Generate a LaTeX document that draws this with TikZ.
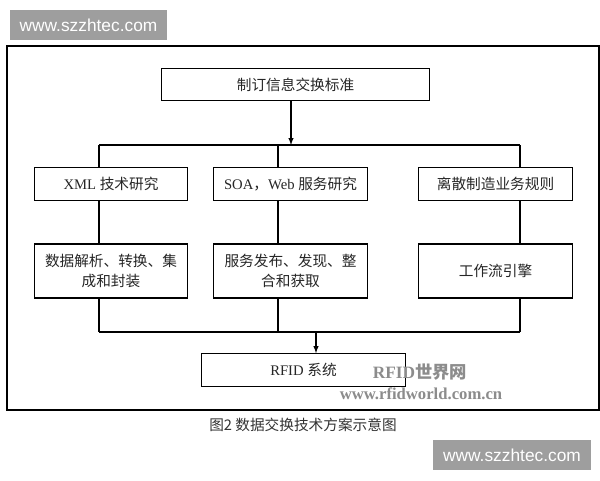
\documentclass[tikz,border=0pt]{standalone}
\usepackage{fontspec}
\setmainfont{Liberation Serif}
\newfontfamily\cjk{Noto Sans CJK SC}
\newfontfamily\wmfont{Liberation Sans}
\usetikzlibrary{positioning}

\tikzset{
	blk/.style = {draw, line width=0.8pt, minimum height=24.5pt, inner ysep=2pt, text=black!85, font=\fontsize{11}{15}\selectfont},
	blk2/.style = {blk, minimum height=40.5pt, align=center},
	wm/.style = {fill=black!38, text=white, inner sep=0pt, minimum width=118pt, minimum height=22.5pt, font=\wmfont\fontsize{13}{15}\selectfont},
	link/.style = {line width=0.8pt}
}

\begin{document}
\begin{tikzpicture}[x=0.75pt,y=-0.75pt]
		\useasboundingbox (0,0) rectangle (600,480);
		\fill[white] (0,0) rectangle (600,480);
		% outer frame
		\draw[line width=1pt] (7,46) rectangle (599,410);
		% watermarks
		\node[wm] (wmtop) at (88.5,25) {www.szzhtec.com};
		\node[wm] (wmbot) at (512,455) {www.szzhtec.com};
		% boxes
		\node[blk, minimum width=201pt] (std) at (295.5,84.5){\cjk 制订信息交换标准};
		\node[blk, minimum width=115pt] (xml) at (111,184){XML {\cjk 技术研究}};
		\node[blk, minimum width=115pt] (soa) at (290.5,184){SOA{\cjk ，}Web {\cjk 服务研究}};
		\node[blk, minimum width=116pt] (rule) at (495.5,184){\cjk 离散制造业务规则};
		\node[blk2, minimum width=115pt] (parse) at (111,271){\cjk 数据解析、转换、集\\\cjk 成和封装};
		\node[blk2, minimum width=115pt] (pub) at (290.5,271){\cjk 服务发布、发现、整\\\cjk 合和获取};
		\node[blk2, minimum width=116pt] (flow) at (495.5,271){\cjk 工作流引擎};
		\node[blk, minimum width=153pt] (rfid) at (303.5,370){RFID {\cjk 系统}};
		% junctions
		\coordinate (split) at (291,145);
		\coordinate (t1) at (99,145);
		\coordinate (t2) at (278,145);
		\coordinate (t3) at (520,145);
		\coordinate (b1) at (99,332);
		\coordinate (b2) at (278,332);
		\coordinate (b3) at (520,332);
		\coordinate (merge) at (316,332);
		% connectors
		\draw[link,-latex] (std.south -| split) -- (split);
		\draw[link] (t1) -- (t3);
		\foreach \c/\r/\s in {1/xml/parse, 2/soa/pub, 3/rule/flow}{
			\draw[link] (t\c) -- (\r.north -| t\c);
			\draw[link] (\r.south -| t\c) -- (\s.north -| t\c);
			\draw[link] (\s.south -| t\c) -- (b\c);
		}
		\draw[link] (b1) -- (b3);
		\draw[link,-latex] (merge) -- (rfid.north -| merge);
		% site marks and caption
		\node[text=black!45, font=\bfseries\fontsize{13}{15}\selectfont] (mark1) at (420,372){RFID{\cjk 世界网}};
		\node[text=black!45, font=\bfseries\fontsize{12.5}{15}\selectfont] (mark2) at (421,394){www.rfidworld.com.cn};
		\node[text=black!80, font=\fontsize{11}{14}\selectfont] (cap) at (303,425){\cjk 图2 数据交换技术方案示意图};
		\end{tikzpicture}
\end{document}
